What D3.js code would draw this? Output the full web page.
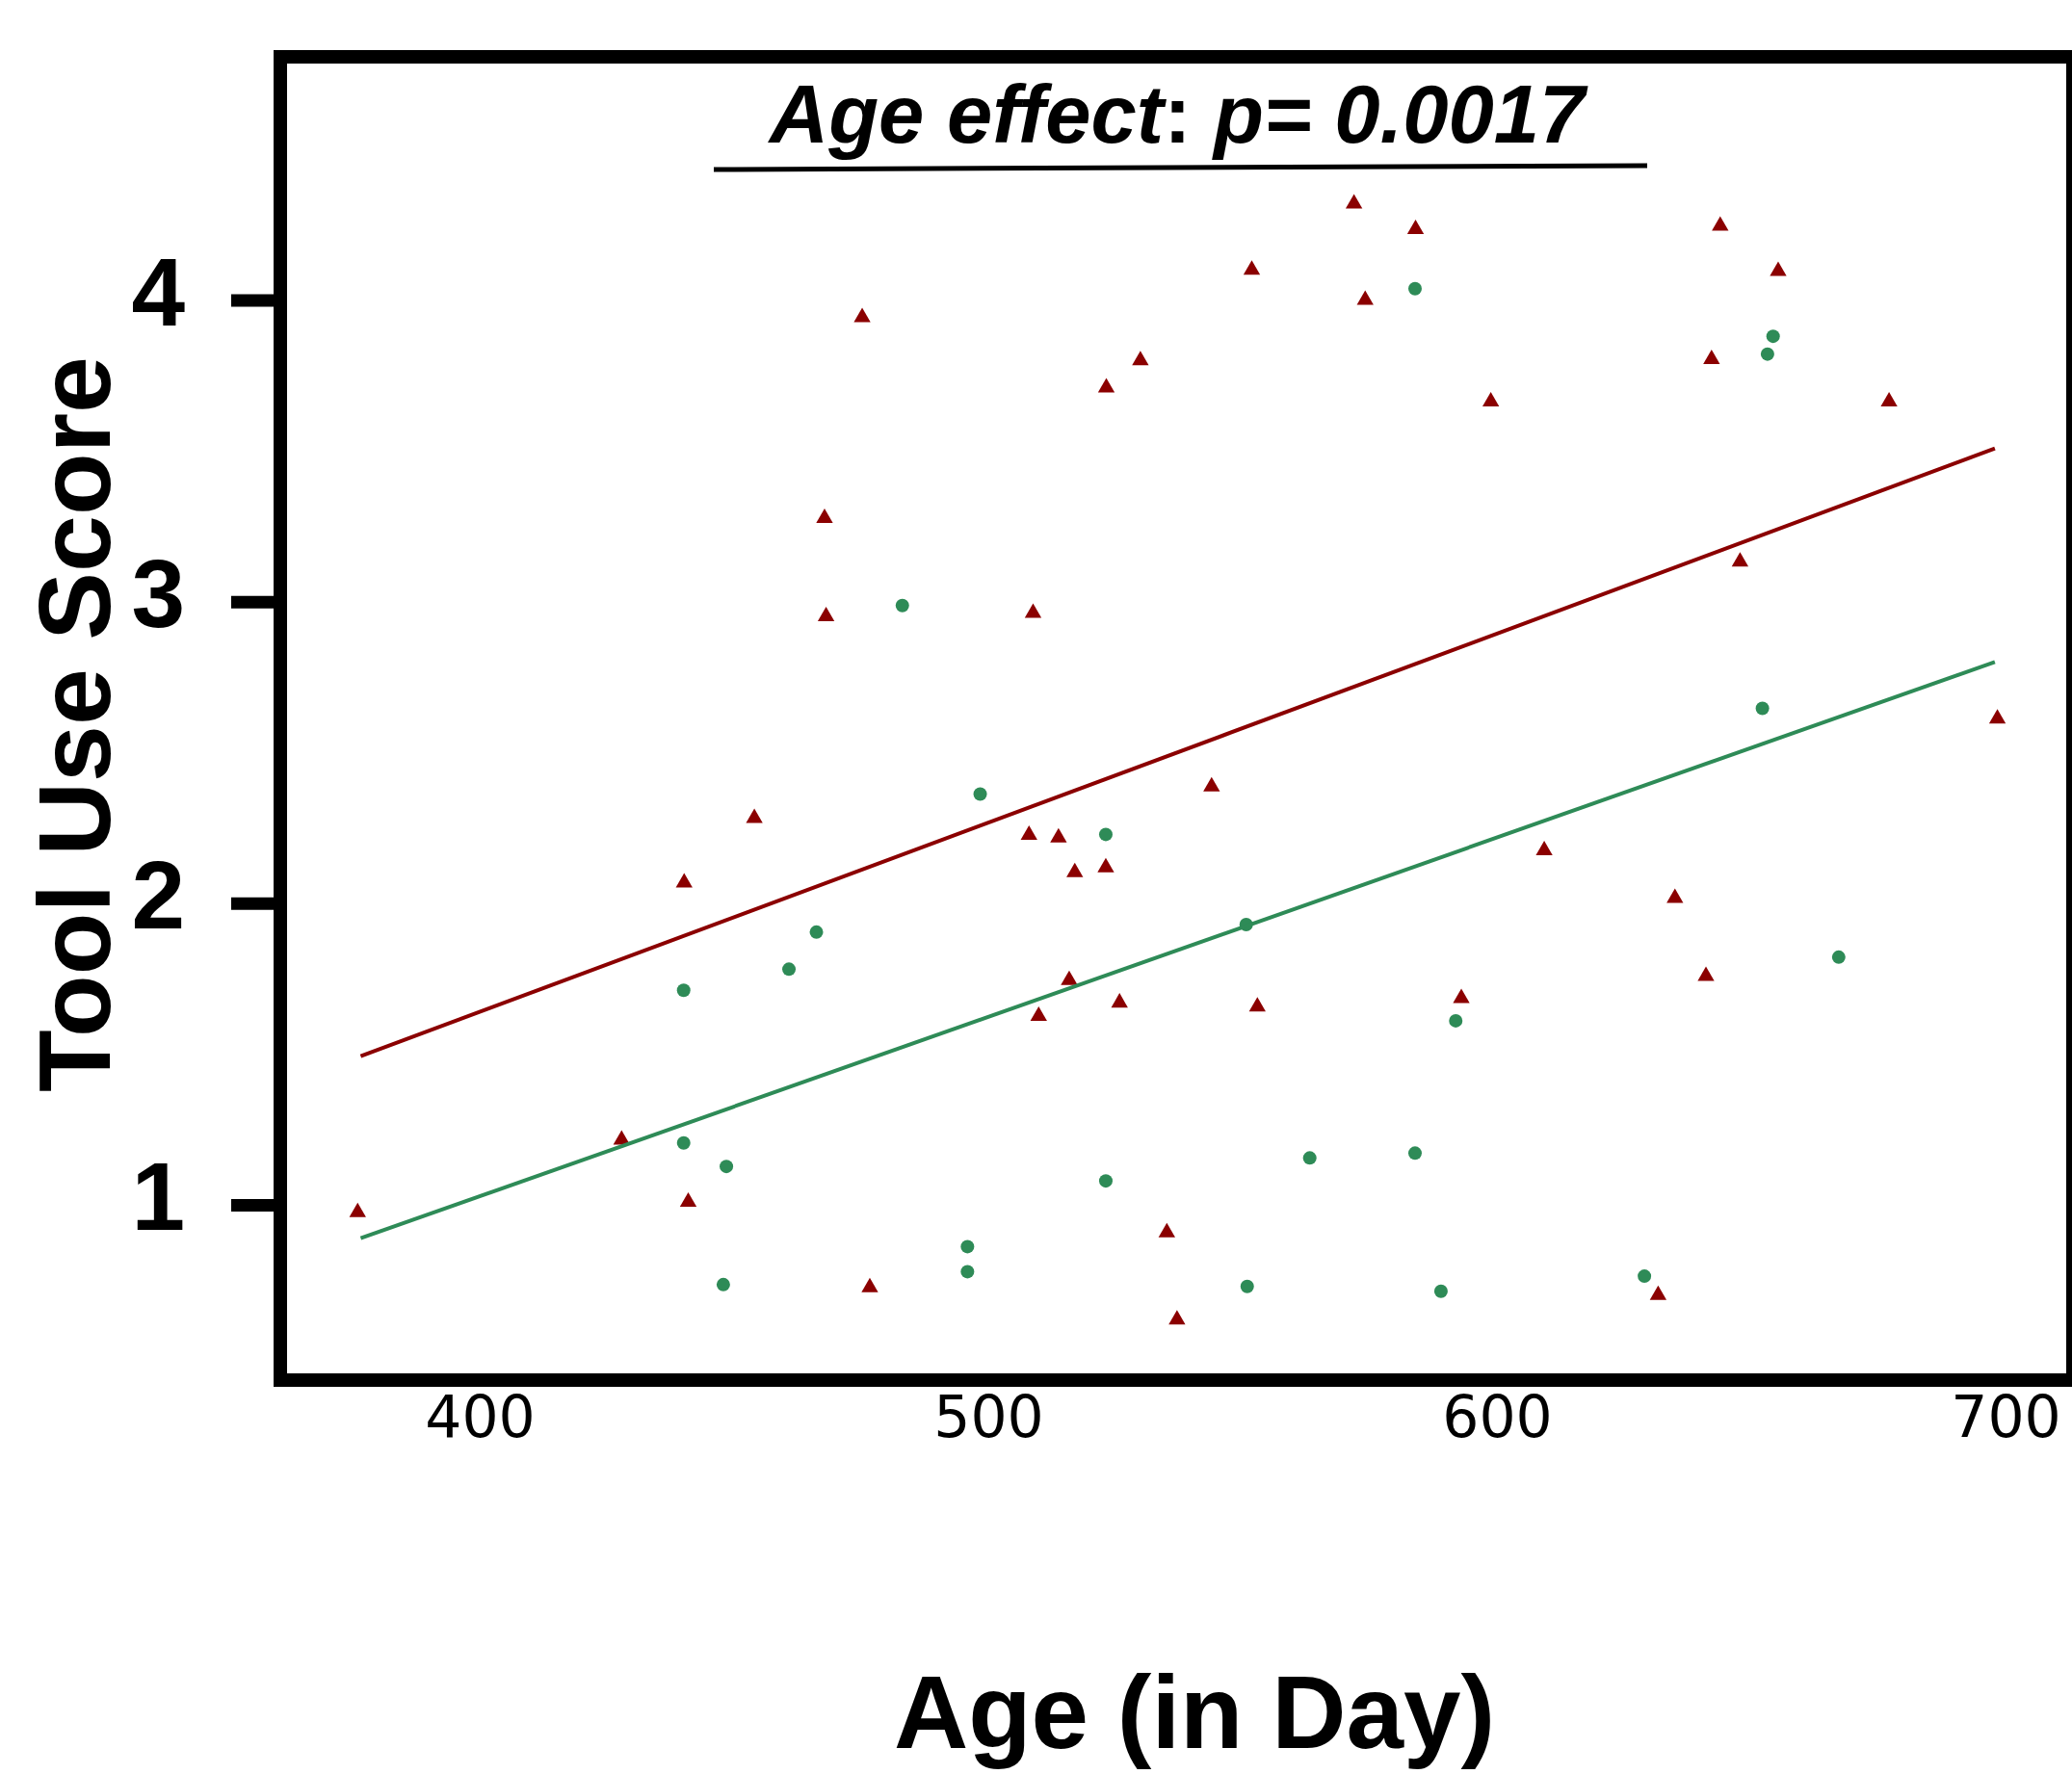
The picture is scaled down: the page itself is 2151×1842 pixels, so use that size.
<!DOCTYPE html>
<html>
<head>
	<title>Tool use score by age</title>
	<script src="https://d3js.org/d3.v7.min.js"></script>
	<style>
		body { margin: 0; background: #fff; }
	</style>
</head>
<body>

	<div id="chart"></div>

	<script type="text/javascript">

	// values: age in days, tool use score
	var redAge = [571.9, 584.0, 551.8, 574.1, 475.2, 529.9, 523.2, 598.8, 643.9, 655.3,
		642.2, 677.1, 467.8, 468.1, 508.8, 647.8, 698.4, 454.0, 543.9, 508.0,
		513.8, 517.0, 523.1, 440.2, 609.3, 635.0, 641.1, 515.9, 509.9, 525.8,
		552.9, 593.0, 427.9, 376.0, 441.0, 535.1, 476.7, 537.1, 631.7];
	var redScore = [4.32, 4.235, 4.10, 4.00, 3.943, 3.80, 3.71, 3.663, 4.246, 4.096,
		3.804, 3.663, 3.277, 2.951, 2.962, 3.132, 2.612, 2.282, 2.387, 2.226,
		2.217, 2.102, 2.118, 2.068, 2.175, 2.017, 1.758, 1.745, 1.626, 1.670,
		1.657, 1.685, 1.215, 0.975, 1.009, 0.908, 0.726, 0.619, 0.700];

	var greenAge = [583.9, 654.3, 653.2, 483.1, 498.4, 523.1, 652.2, 466.2, 460.8, 550.7,
		440.1, 667.2, 591.9, 440.1, 448.5, 563.2, 583.9, 523.1, 495.9, 495.9,
		447.9, 550.9, 589.0, 629.0];
	var greenScore = [4.038, 3.880, 3.821, 2.987, 2.362, 2.228, 2.646, 1.904, 1.781, 1.929,
		1.711, 1.821, 1.610, 1.205, 1.127, 1.155, 1.171, 1.079, 0.861, 0.778,
		0.735, 0.729, 0.713, 0.763];

	// fitted lines, end points [age, score]
	var redFit = [[376.6, 1.493], [697.9, 3.508]];
	var greenFit = [[376.6, 0.889], [697.9, 2.800]];

	var xTicks = [400, 500, 600, 700];
	var yTicks = [1, 2, 3, 4];

	var W = 2151, H = 1842;
	var red = "#8b0000", green = "#2e8b57";

	var svg = d3.select("#chart").append("svg")
		.attr("width", W)
		.attr("height", H)
		.style("display", "block");

	svg.append("rect").attr("width", W).attr("height", H).attr("fill", "#fff");

	var x = d3.scaleLinear().domain([400, 700]).range([498, 2082]);
	var y = d3.scaleLinear().domain([1, 4]).range([1250.9, 311.6]);

	// plot frame edges (the right one runs off the picture)
	var frameL = 291, frameT = 59, frameB = 1433, frameR = 2152;

	/* points */
	var redPts = redAge.map(function(a, i) { return [a, redScore[i]]; });
	var greenPts = greenAge.map(function(a, i) { return [a, greenScore[i]]; });

	svg.append("g").selectAll("path")
		.data(redPts)
		.enter().append("path")
		.attr("d", d3.symbol(d3.symbolTriangle, 130))
		.attr("fill", red)
		.attr("transform", function(d) {
			return "translate(" + x(d[0]) + "," + y(d[1]) + ")";
		});

	svg.append("g").selectAll("circle")
		.data(greenPts)
		.enter().append("circle")
		.attr("cx", function(d) { return x(d[0]); })
		.attr("cy", function(d) { return y(d[1]); })
		.attr("r", 7)
		.attr("fill", green);

	/* regression lines */
	var line = d3.line()
		.x(function(d) { return x(d[0]); })
		.y(function(d) { return y(d[1]); });

	svg.append("path").datum(redFit)
		.attr("d", line).attr("fill", "none")
		.attr("stroke", red).attr("stroke-width", 4);
	svg.append("path").datum(greenFit)
		.attr("d", line).attr("fill", "none")
		.attr("stroke", green).attr("stroke-width", 4);

	/* frame */
	svg.append("rect")
		.attr("x", frameL).attr("y", frameT)
		.attr("width", frameR - frameL).attr("height", frameB - frameT)
		.attr("fill", "none").attr("stroke", "#000").attr("stroke-width", 14);

	/* y axis */
	var yAxis = svg.append("g")
		.attr("transform", "translate(" + frameL + ",0)")
		.call(d3.axisLeft(y).tickValues(yTicks).tickSize(51).tickPadding(48)
			.tickFormat(d3.format("d")));
	yAxis.select(".domain").remove();
	yAxis.selectAll(".tick line").attr("stroke", "#000").attr("stroke-width", 13);
	yAxis.selectAll(".tick text")
		.attr("dy", "0.26em")
		.attr("fill", "#000")
		.style("font-family", "'Liberation Sans', Arial, sans-serif")
		.style("font-weight", "bold")
		.style("font-size", "100px");

	/* x axis */
	var xAxis = svg.append("g")
		.attr("transform", "translate(0," + frameB + ")")
		.call(d3.axisBottom(x).tickValues(xTicks).tickSize(0).tickFormat(d3.format("d")));
	xAxis.select(".domain").remove();
	xAxis.selectAll(".tick text")
		.attr("y", 59)
		.attr("dy", 0)
		.attr("fill", "#000")
		.style("font-family", "'DejaVu Sans', sans-serif")
		.style("font-size", "60px");

	/* titles */
	var title = svg.append("text")
		.attr("x", 1222).attr("y", 148)
		.attr("text-anchor", "middle")
		.style("font-family", "'Liberation Sans', Arial, sans-serif")
		.style("font-weight", "bold")
		.style("font-size", "85px");
	title.append("tspan").style("font-style", "italic").text("Age effect");
	title.append("tspan").text(":");
	title.append("tspan").style("font-style", "italic").text(" p= 0.0017");

	svg.append("line")
		.attr("x1", 741).attr("y1", 176)
		.attr("x2", 1710).attr("y2", 172)
		.attr("stroke", "#000").attr("stroke-width", 5);

	svg.append("text")
		.attr("x", 1240).attr("y", 1815)
		.attr("text-anchor", "middle")
		.style("font-family", "'Liberation Sans', Arial, sans-serif")
		.style("font-weight", "bold")
		.style("font-size", "107px")
		.text("Age (in Day)");

	svg.append("text")
		.attr("transform", "translate(114,752) rotate(-90)")
		.attr("text-anchor", "middle")
		.style("font-family", "'Liberation Sans', Arial, sans-serif")
		.style("font-weight", "bold")
		.style("font-size", "106px")
		.text("Tool Use Score");

	</script>
</body>
</html>
